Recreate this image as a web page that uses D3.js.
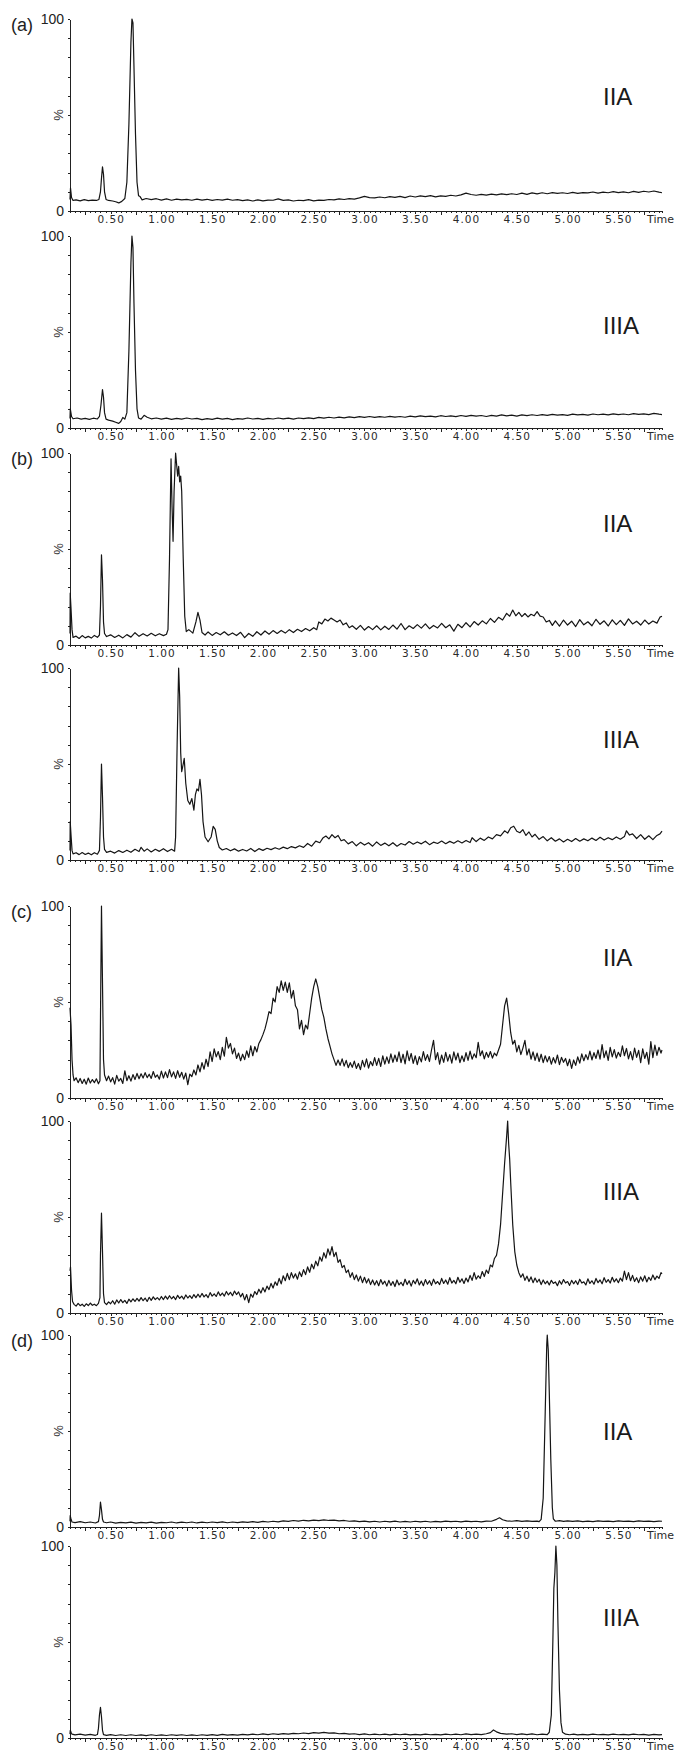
<!DOCTYPE html>
<meta charset="utf-8">
<style>
    body { margin: 0; background: #fff; }
    svg { display: block; }
    .trace { fill: none; stroke: #151515; stroke-width: 1.2; stroke-linejoin: round; }
    .axis path, .axis line { stroke: #222; shape-rendering: crispEdges; }
    .axis--x text { font-family: "DejaVu Sans", sans-serif; font-size: 10.5px; letter-spacing: 1px; fill: #2a2a2a; }
    .ylab { font-family: "Liberation Sans", Arial, sans-serif; font-size: 14px; fill: #222; }
    .pct { font-family: "Liberation Sans", Arial, sans-serif; font-size: 13px; fill: #333; }
    .tag { font-family: "Liberation Sans", Arial, sans-serif; font-size: 18px; fill: #222; }
    .name { font-family: "Liberation Sans", Arial, sans-serif; font-size: 24px; fill: #1a1a1a; }
    .time { font-family: "DejaVu Sans", sans-serif; font-size: 11px; fill: #2a2a2a; }
</style>
<svg width="677" height="1754"></svg>
<script src="https://cdn.jsdelivr.net/npm/d3@7"></script>
<script>

    // chromatogram traces: [time (min), relative intensity (%)]
    var aIIA = [[0.10,6],[0.105,12],[0.115,7],[0.13,5.5],[0.16,5.8],[0.20,5.3],[0.24,5.9],[0.28,5.4],[0.32,5.7],[0.36,5.5],[0.385,6],[0.40,10],[0.41,17],[0.42,23],[0.43,19],[0.44,10],[0.455,6],[0.48,5.5],[0.52,5.2],[0.55,4.8],[0.58,4.2],[0.61,5],[0.64,6.5],[0.66,15],[0.68,45],[0.70,88],[0.71,100],[0.72,98],[0.73,75],[0.745,40],[0.76,15],[0.775,8],[0.79,7.5],[0.81,5.8],[0.85,6.5],[0.90,5.9],[0.95,6.4],[1.00,5.7],[1.05,6.3],[1.10,5.6],[1.15,6.2],[1.20,5.8],[1.25,6.1],[1.30,5.6],[1.35,6.2],[1.40,5.7],[1.45,6.1],[1.50,5.5],[1.55,6.0],[1.60,5.7],[1.65,6.2],[1.70,5.6],[1.75,5.9],[1.80,5.4],[1.85,5.8],[1.90,5.2],[1.95,5.8],[2.00,5.3],[2.05,5.7],[2.10,5.6],[2.15,6.3],[2.20,5.5],[2.25,5.8],[2.30,5.2],[2.35,5.6],[2.40,5.4],[2.45,5.9],[2.50,5.3],[2.55,5.7],[2.60,5.5],[2.65,6.0],[2.70,5.8],[2.75,6.3],[2.80,6.0],[2.85,6.4],[2.90,6.2],[2.95,6.8],[3.00,7.6],[3.05,7.0],[3.10,6.8],[3.15,7.3],[3.20,6.9],[3.25,7.5],[3.30,7.1],[3.35,7.6],[3.40,7.0],[3.45,7.8],[3.50,7.3],[3.55,7.9],[3.60,7.5],[3.65,8.0],[3.70,7.4],[3.75,7.9],[3.80,7.6],[3.85,8.2],[3.90,7.8],[3.95,8.4],[4.00,9.3],[4.05,8.6],[4.10,8.2],[4.15,8.7],[4.20,8.3],[4.25,8.8],[4.30,8.4],[4.35,8.9],[4.40,8.5],[4.45,9.0],[4.50,8.6],[4.55,9.3],[4.60,8.7],[4.65,9.4],[4.70,8.9],[4.75,9.5],[4.80,9.0],[4.85,9.6],[4.90,9.2],[4.95,9.5],[5.00,9.1],[5.05,9.7],[5.10,9.2],[5.15,9.6],[5.20,9.4],[5.25,9.9],[5.30,9.3],[5.35,9.8],[5.40,9.5],[5.45,10.1],[5.50,9.6],[5.55,10.0],[5.60,9.5],[5.65,10.2],[5.70,9.7],[5.75,10.3],[5.80,9.9],[5.85,10.4],[5.90,9.8],[5.93,9.5]];

    var aIIIA = [[0.10,5.0],[0.103,10],[0.115,6.0],[0.13,4.8],[0.17,5.2],[0.21,4.6],[0.25,5.0],[0.29,4.5],[0.33,5.1],[0.37,4.7],[0.39,6.0],[0.405,12],[0.42,20],[0.43,16],[0.44,8],[0.455,4.6],[0.48,4.1],[0.52,3.6],[0.55,3.0],[0.58,2.4],[0.60,3.4],[0.62,5.5],[0.64,4.6],[0.66,8],[0.68,40],[0.70,86],[0.71,100],[0.72,94],[0.73,65],[0.745,30],[0.76,10],[0.775,5.2],[0.80,4.6],[0.83,6.6],[0.86,5.6],[0.90,4.8],[0.95,5.2],[1.00,4.6],[1.05,5.1],[1.10,4.5],[1.15,5.0],[1.20,4.6],[1.25,5.2],[1.30,4.7],[1.35,5.0],[1.40,4.4],[1.45,4.9],[1.50,4.5],[1.55,5.1],[1.60,4.6],[1.65,5.0],[1.70,4.4],[1.75,4.9],[1.80,4.6],[1.85,5.2],[1.90,4.7],[1.95,5.0],[2.00,4.5],[2.05,5.0],[2.10,4.7],[2.15,5.2],[2.20,4.8],[2.25,5.1],[2.30,4.6],[2.35,5.2],[2.40,4.9],[2.45,5.3],[2.50,4.9],[2.55,5.5],[2.60,5.1],[2.65,5.6],[2.70,5.2],[2.75,5.7],[2.80,5.3],[2.85,5.8],[2.90,5.4],[2.95,5.9],[3.00,5.5],[3.05,6.0],[3.10,5.5],[3.15,5.9],[3.20,5.6],[3.25,6.1],[3.30,5.7],[3.35,6.0],[3.40,5.6],[3.45,6.2],[3.50,5.8],[3.55,6.3],[3.60,5.9],[3.65,6.2],[3.70,5.8],[3.75,6.4],[3.80,6.0],[3.85,6.3],[3.90,5.9],[3.95,6.5],[4.00,6.1],[4.05,6.6],[4.10,6.2],[4.15,6.5],[4.20,6.0],[4.25,6.6],[4.30,6.2],[4.35,6.8],[4.40,6.3],[4.45,6.7],[4.50,6.2],[4.55,6.8],[4.60,6.4],[4.65,6.9],[4.70,6.5],[4.75,7.0],[4.80,6.6],[4.85,7.1],[4.90,6.7],[4.95,7.0],[5.00,6.6],[5.05,7.2],[5.10,6.8],[5.15,7.1],[5.20,6.7],[5.25,7.3],[5.30,6.9],[5.35,7.2],[5.40,6.8],[5.45,7.4],[5.50,7.0],[5.55,7.3],[5.60,6.9],[5.65,7.5],[5.70,7.1],[5.75,7.4],[5.80,7.0],[5.85,7.6],[5.90,7.2],[5.93,7.0]];

    var bIIA = [[0.10,6],[0.102,27],[0.11,19],[0.12,8],[0.13,4.0],[0.16,4.6],[0.19,3.4],[0.22,4.9],[0.25,3.7],[0.28,4.5],[0.31,3.6],[0.34,5.0],[0.37,4.0],[0.39,5.2],[0.40,20],[0.41,47],[0.42,34],[0.43,12],[0.44,6],[0.46,4.4],[0.50,5.3],[0.54,3.9],[0.58,5.1],[0.62,3.7],[0.66,5.4],[0.70,4.1],[0.74,6.4],[0.78,4.5],[0.82,5.9],[0.86,4.7],[0.90,6.1],[0.94,4.8],[0.98,5.9],[1.02,4.9],[1.05,5.6],[1.065,8],[1.08,45],[1.095,97],[1.105,72],[1.115,54],[1.125,80],[1.14,100],[1.15,94],[1.16,88],[1.17,93],[1.18,85],[1.19,88],[1.20,80],[1.215,45],[1.23,15],[1.245,7],[1.27,8],[1.31,6.2],[1.34,12],[1.36,17],[1.38,13],[1.40,6.5],[1.43,5.2],[1.46,6.8],[1.50,5.0],[1.54,6.5],[1.58,5.3],[1.62,6.9],[1.66,5.1],[1.70,6.3],[1.74,4.9],[1.78,6.6],[1.82,3.8],[1.86,6.0],[1.90,4.5],[1.94,6.9],[1.98,5.2],[2.02,7.3],[2.06,5.6],[2.10,7.5],[2.14,6.0],[2.18,7.6],[2.22,6.2],[2.26,8.0],[2.30,6.5],[2.34,8.2],[2.38,7.0],[2.42,8.6],[2.46,7.4],[2.50,9.0],[2.53,8.0],[2.55,12],[2.58,11],[2.61,13.5],[2.64,12.5],[2.67,14],[2.70,13],[2.73,12],[2.76,13],[2.79,10.5],[2.82,11.5],[2.85,9],[2.88,10],[2.92,8.2],[2.96,10.2],[3.00,7.8],[3.04,9.6],[3.08,8.0],[3.12,10.0],[3.16,7.9],[3.20,9.8],[3.24,8.1],[3.28,10.4],[3.32,8.3],[3.36,11.2],[3.40,8.0],[3.44,10.0],[3.48,8.6],[3.52,10.6],[3.56,8.8],[3.60,11.0],[3.64,8.5],[3.68,10.2],[3.72,8.9],[3.76,11.3],[3.80,9.0],[3.84,10.5],[3.88,7.2],[3.92,10.8],[3.96,9.0],[4.00,11.6],[4.04,9.4],[4.08,12.2],[4.12,10.4],[4.16,12.6],[4.20,11.0],[4.24,13.8],[4.28,11.8],[4.32,14.4],[4.36,13.0],[4.40,16.5],[4.43,15.0],[4.46,18.2],[4.49,15.2],[4.52,17.0],[4.55,14.8],[4.58,16.4],[4.61,14.6],[4.64,16.0],[4.67,15.2],[4.70,17.4],[4.73,15.0],[4.76,14.6],[4.79,12.0],[4.82,12.8],[4.85,10.2],[4.88,12.6],[4.92,9.8],[4.96,13.0],[5.00,10.4],[5.04,12.4],[5.08,9.6],[5.12,13.2],[5.16,10.5],[5.20,12.1],[5.24,10.0],[5.28,13.4],[5.32,10.8],[5.36,12.6],[5.40,9.9],[5.44,13.1],[5.48,10.6],[5.52,12.8],[5.56,10.2],[5.60,13.6],[5.64,11.0],[5.68,12.4],[5.72,10.4],[5.76,13.0],[5.80,10.9],[5.84,12.5],[5.88,11.4],[5.91,14.5],[5.93,15.0]];

    var bIIIA = [[0.10,5],[0.102,20],[0.11,13],[0.12,5],[0.13,3.2],[0.16,3.8],[0.19,2.8],[0.22,3.9],[0.25,2.9],[0.28,3.6],[0.31,2.7],[0.34,3.8],[0.37,3.0],[0.39,5],[0.40,22],[0.41,50],[0.42,33],[0.43,12],[0.44,5.5],[0.46,4.0],[0.50,4.6],[0.54,3.6],[0.58,4.9],[0.62,3.9],[0.66,5.1],[0.70,4.0],[0.74,5.6],[0.78,4.4],[0.80,6.6],[0.83,4.6],[0.86,5.8],[0.90,4.2],[0.94,5.6],[0.98,4.5],[1.02,5.9],[1.06,4.4],[1.10,5.6],[1.13,4.6],[1.14,12],[1.155,60],[1.17,100],[1.18,85],[1.19,56],[1.20,46],[1.215,50],[1.225,53],[1.24,40],[1.26,31],[1.28,29],[1.30,32],[1.32,26],[1.335,34],[1.35,37],[1.365,36],[1.38,42],[1.395,34],[1.41,20],[1.43,12],[1.46,9.5],[1.49,12],[1.51,17.5],[1.53,16],[1.55,10],[1.57,6.5],[1.60,5.2],[1.64,6.0],[1.68,4.8],[1.72,5.8],[1.76,4.6],[1.80,5.5],[1.84,4.7],[1.88,6.0],[1.92,4.4],[1.96,5.9],[2.00,5.0],[2.04,6.1],[2.08,5.4],[2.12,6.4],[2.16,5.6],[2.20,6.7],[2.24,5.9],[2.28,7.0],[2.32,6.3],[2.36,7.4],[2.40,6.6],[2.44,8.6],[2.48,7.2],[2.52,9.8],[2.56,9.0],[2.59,11.4],[2.62,12.5],[2.65,11.0],[2.68,13.2],[2.71,11.6],[2.74,12.8],[2.77,10.0],[2.80,10.6],[2.84,8.4],[2.88,9.6],[2.92,7.4],[2.96,9.2],[3.00,7.8],[3.04,9.0],[3.08,7.2],[3.12,9.4],[3.16,7.6],[3.20,8.8],[3.24,7.4],[3.28,9.0],[3.32,7.2],[3.36,8.6],[3.40,7.8],[3.44,9.6],[3.48,8.2],[3.52,9.4],[3.56,8.4],[3.60,9.8],[3.64,8.0],[3.68,9.3],[3.72,8.6],[3.76,9.9],[3.80,8.5],[3.84,9.7],[3.88,8.7],[3.92,10.0],[3.96,8.9],[4.00,10.2],[4.04,9.1],[4.06,11.6],[4.10,9.6],[4.14,11.4],[4.18,10.2],[4.22,12.0],[4.26,11.0],[4.30,13.2],[4.34,12.6],[4.38,15.2],[4.41,14.0],[4.44,16.8],[4.47,17.6],[4.50,15.0],[4.53,14.2],[4.56,15.8],[4.59,12.8],[4.62,14.6],[4.65,12.0],[4.68,13.4],[4.72,10.8],[4.76,12.2],[4.80,10.0],[4.84,11.6],[4.88,9.8],[4.92,11.0],[4.96,9.4],[5.00,10.8],[5.04,9.6],[5.08,11.2],[5.12,9.8],[5.16,11.0],[5.20,10.0],[5.24,11.4],[5.28,10.2],[5.32,11.8],[5.36,10.4],[5.40,11.6],[5.44,10.6],[5.48,12.0],[5.52,10.8],[5.56,12.2],[5.58,15.2],[5.61,13.0],[5.64,13.6],[5.68,11.2],[5.72,13.2],[5.76,10.8],[5.80,12.6],[5.84,10.6],[5.88,12.8],[5.91,13.6],[5.93,15.0]];

    var cIIA = [[0.10,47],[0.11,38],[0.12,20],[0.13,12],[0.14,9],[0.16,10.5],[0.18,8],[0.20,10.2],[0.22,7.6],[0.24,9.8],[0.26,7.2],[0.28,10.4],[0.30,7.8],[0.32,9.6],[0.34,8.0],[0.36,10.0],[0.38,7.4],[0.395,9],[0.40,40],[0.41,100],[0.42,60],[0.43,20],[0.44,12],[0.46,9.0],[0.48,11.4],[0.50,8.4],[0.52,10.6],[0.54,7.2],[0.56,11.8],[0.58,8.8],[0.60,10.2],[0.62,7.6],[0.64,14.2],[0.66,9.0],[0.68,11.6],[0.70,8.8],[0.72,12.2],[0.74,9.6],[0.76,12.8],[0.78,10.0],[0.80,12.6],[0.82,10.4],[0.84,13.2],[0.86,10.6],[0.88,12.4],[0.90,10.2],[0.92,13.8],[0.94,10.8],[0.96,12.0],[0.98,9.8],[1.00,14.0],[1.02,10.4],[1.04,13.6],[1.06,10.6],[1.08,14.8],[1.10,11.0],[1.12,13.6],[1.14,10.2],[1.16,14.2],[1.18,10.8],[1.20,13.4],[1.22,9.8],[1.24,13.0],[1.26,7.0],[1.28,12.4],[1.30,11.2],[1.32,14.6],[1.34,12.0],[1.36,17.2],[1.38,13.6],[1.40,18.4],[1.42,15.0],[1.44,20.2],[1.46,16.4],[1.48,24.0],[1.50,19.0],[1.52,25.6],[1.54,21.4],[1.56,24.2],[1.58,20.0],[1.60,26.4],[1.62,21.8],[1.64,31.6],[1.66,26.0],[1.68,28.4],[1.70,23.0],[1.72,26.0],[1.74,20.6],[1.76,23.4],[1.78,19.4],[1.80,22.8],[1.82,20.0],[1.84,24.6],[1.86,21.2],[1.88,27.2],[1.90,22.0],[1.92,26.8],[1.94,24.0],[1.96,28.4],[1.98,30.4],[2.00,33.0],[2.02,36.0],[2.04,40.2],[2.06,45.0],[2.08,44.0],[2.10,52.0],[2.12,50.0],[2.14,58.0],[2.16,55.0],[2.18,61.0],[2.20,56.0],[2.22,60.4],[2.24,55.0],[2.26,60.0],[2.28,52.0],[2.30,56.0],[2.32,48.0],[2.34,46.0],[2.36,36.0],[2.38,40.4],[2.40,33.0],[2.42,38.0],[2.44,36.0],[2.46,44.0],[2.48,52.0],[2.50,58.0],[2.52,62.0],[2.54,58.0],[2.56,52.0],[2.58,46.0],[2.60,42.0],[2.62,36.0],[2.64,31.0],[2.66,27.0],[2.68,23.0],[2.70,20.0],[2.72,17.0],[2.74,19.8],[2.76,17.0],[2.78,20.4],[2.80,16.6],[2.82,19.6],[2.84,15.8],[2.86,18.4],[2.88,16.0],[2.90,19.2],[2.92,15.4],[2.94,18.0],[2.96,14.8],[2.98,19.6],[3.00,16.2],[3.02,20.4],[3.04,15.6],[3.06,19.0],[3.08,16.8],[3.10,21.0],[3.12,17.0],[3.14,20.6],[3.16,16.4],[3.18,22.0],[3.20,17.6],[3.22,21.4],[3.24,18.0],[3.26,23.0],[3.28,18.6],[3.30,22.4],[3.32,19.0],[3.34,24.0],[3.36,18.4],[3.38,22.8],[3.40,17.8],[3.42,24.6],[3.44,19.4],[3.46,23.2],[3.48,18.0],[3.50,22.0],[3.52,17.4],[3.54,21.6],[3.56,18.8],[3.58,24.2],[3.60,19.6],[3.62,22.6],[3.64,19.0],[3.66,25.0],[3.68,30.0],[3.70,20.0],[3.72,23.6],[3.74,17.6],[3.76,22.4],[3.78,18.6],[3.80,23.8],[3.82,19.2],[3.84,22.6],[3.86,18.2],[3.88,24.0],[3.90,19.8],[3.92,23.4],[3.94,18.4],[3.96,22.0],[3.98,19.0],[4.00,23.6],[4.02,19.6],[4.04,24.4],[4.06,20.2],[4.08,23.0],[4.10,21.0],[4.12,29.0],[4.14,22.0],[4.16,24.6],[4.18,20.4],[4.20,23.8],[4.22,21.2],[4.24,24.2],[4.26,20.8],[4.28,23.4],[4.30,22.0],[4.32,25.0],[4.34,28.0],[4.36,38.0],[4.38,48.0],[4.40,52.0],[4.42,44.0],[4.44,34.0],[4.46,28.0],[4.48,30.0],[4.50,24.0],[4.52,27.4],[4.54,22.6],[4.56,26.0],[4.58,30.0],[4.60,22.4],[4.62,25.6],[4.64,20.2],[4.66,24.0],[4.68,19.6],[4.70,23.4],[4.72,19.0],[4.74,22.8],[4.76,18.4],[4.78,22.0],[4.80,18.8],[4.82,21.6],[4.84,17.6],[4.86,21.0],[4.88,18.2],[4.90,22.4],[4.92,17.4],[4.94,21.2],[4.96,18.6],[4.98,20.6],[5.00,16.8],[5.02,20.2],[5.04,15.4],[5.06,19.8],[5.08,17.0],[5.10,21.4],[5.12,18.2],[5.14,23.0],[5.16,19.4],[5.18,22.6],[5.20,20.0],[5.22,24.4],[5.24,19.8],[5.26,23.6],[5.28,20.6],[5.30,25.0],[5.32,20.2],[5.34,27.8],[5.36,21.0],[5.38,24.6],[5.40,19.6],[5.42,26.4],[5.44,21.4],[5.46,25.2],[5.48,20.8],[5.50,23.8],[5.52,21.6],[5.54,27.2],[5.56,22.0],[5.58,25.8],[5.60,20.4],[5.62,24.2],[5.64,19.8],[5.66,26.0],[5.68,21.2],[5.70,24.8],[5.72,18.4],[5.74,25.6],[5.76,20.6],[5.78,23.8],[5.80,17.6],[5.82,29.4],[5.84,21.0],[5.86,27.6],[5.88,22.2],[5.90,26.4],[5.92,23.4],[5.93,25.0]];

    var cIIIA = [[0.10,22],[0.105,24],[0.115,12],[0.125,6],[0.14,4.5],[0.16,3.6],[0.18,5.0],[0.20,3.8],[0.22,4.6],[0.24,3.4],[0.26,4.8],[0.28,3.9],[0.30,5.2],[0.32,4.0],[0.34,4.6],[0.36,3.8],[0.38,5.0],[0.395,8],[0.40,30],[0.41,52],[0.42,32],[0.43,10],[0.44,5.4],[0.46,4.4],[0.48,5.8],[0.50,4.8],[0.52,6.4],[0.54,4.6],[0.56,6.8],[0.58,5.2],[0.60,7.0],[0.62,5.4],[0.64,6.6],[0.66,5.0],[0.68,7.2],[0.70,5.8],[0.72,7.4],[0.74,6.0],[0.76,7.6],[0.78,6.2],[0.80,8.0],[0.82,6.4],[0.84,7.8],[0.86,6.0],[0.88,8.2],[0.90,6.6],[0.92,8.4],[0.94,7.0],[0.96,8.0],[0.98,6.8],[1.00,8.6],[1.02,7.0],[1.04,8.8],[1.06,7.2],[1.08,9.0],[1.10,7.4],[1.12,8.6],[1.14,7.0],[1.16,9.2],[1.18,7.6],[1.20,8.8],[1.22,7.2],[1.24,9.4],[1.26,7.8],[1.28,9.0],[1.30,7.6],[1.32,9.6],[1.34,8.0],[1.36,9.8],[1.38,8.2],[1.40,10.2],[1.42,8.4],[1.44,9.6],[1.46,8.0],[1.48,10.6],[1.50,8.8],[1.52,10.0],[1.54,8.6],[1.56,11.0],[1.58,9.0],[1.60,10.4],[1.62,8.8],[1.64,11.2],[1.66,9.4],[1.68,10.8],[1.70,9.0],[1.72,11.4],[1.74,9.6],[1.76,11.0],[1.78,8.4],[1.80,10.2],[1.82,6.8],[1.84,9.6],[1.86,5.4],[1.88,9.8],[1.90,8.2],[1.92,11.2],[1.94,9.6],[1.96,12.4],[1.98,10.4],[2.00,13.2],[2.02,11.0],[2.04,14.0],[2.06,12.2],[2.08,15.4],[2.10,13.0],[2.12,16.2],[2.14,14.4],[2.16,18.0],[2.18,15.2],[2.20,19.4],[2.22,16.8],[2.24,20.6],[2.26,17.4],[2.28,21.0],[2.30,18.2],[2.32,20.4],[2.34,17.6],[2.36,21.4],[2.38,19.0],[2.40,22.6],[2.42,20.0],[2.44,24.0],[2.46,21.2],[2.48,25.4],[2.50,23.0],[2.52,27.0],[2.54,24.6],[2.56,29.2],[2.58,27.0],[2.60,31.4],[2.62,28.6],[2.64,33.4],[2.66,30.2],[2.68,34.6],[2.70,29.4],[2.72,31.6],[2.74,26.4],[2.76,27.8],[2.78,23.6],[2.80,24.8],[2.82,21.0],[2.84,22.4],[2.86,18.6],[2.88,21.0],[2.90,17.4],[2.92,19.8],[2.94,16.6],[2.96,19.2],[2.98,15.8],[3.00,18.6],[3.02,15.6],[3.04,17.8],[3.06,14.8],[3.08,17.2],[3.10,14.6],[3.12,16.8],[3.14,14.2],[3.16,17.4],[3.18,15.0],[3.20,16.6],[3.22,14.0],[3.24,17.0],[3.26,14.4],[3.28,16.4],[3.30,13.8],[3.32,17.2],[3.34,14.6],[3.36,16.0],[3.38,14.2],[3.40,17.6],[3.42,14.8],[3.44,16.8],[3.46,14.0],[3.48,17.0],[3.50,15.2],[3.52,17.8],[3.54,14.6],[3.56,16.6],[3.58,14.2],[3.60,17.4],[3.62,15.0],[3.64,16.8],[3.66,14.4],[3.68,17.6],[3.70,15.2],[3.72,16.4],[3.74,14.8],[3.76,18.0],[3.78,15.4],[3.80,17.2],[3.82,15.0],[3.84,18.4],[3.86,15.6],[3.88,17.0],[3.90,15.2],[3.92,18.6],[3.94,16.0],[3.96,17.8],[3.98,15.4],[4.00,18.2],[4.02,16.2],[4.04,19.6],[4.06,17.0],[4.08,21.0],[4.10,17.6],[4.12,19.4],[4.14,18.0],[4.16,21.6],[4.18,19.0],[4.20,22.4],[4.22,20.6],[4.24,25.0],[4.26,24.0],[4.28,28.4],[4.30,30.0],[4.32,36.0],[4.34,46.0],[4.36,62.0],[4.38,78.0],[4.40,92.0],[4.41,100],[4.42,88.0],[4.43,80.0],[4.44,68.0],[4.46,46.0],[4.48,32.0],[4.50,25.0],[4.52,21.0],[4.54,18.6],[4.56,20.4],[4.58,17.0],[4.60,19.2],[4.62,16.4],[4.64,18.8],[4.66,15.8],[4.68,18.2],[4.70,16.0],[4.72,17.6],[4.74,14.8],[4.76,17.2],[4.78,15.2],[4.80,16.6],[4.82,14.6],[4.84,17.0],[4.86,15.4],[4.88,16.2],[4.90,14.2],[4.92,16.8],[4.94,15.0],[4.96,17.4],[4.98,15.6],[5.00,16.4],[5.02,14.4],[5.04,17.0],[5.06,15.2],[5.08,16.8],[5.10,14.8],[5.12,17.6],[5.14,15.6],[5.16,16.2],[5.18,14.6],[5.20,17.8],[5.22,15.4],[5.24,16.8],[5.26,15.0],[5.28,18.0],[5.30,15.8],[5.32,17.2],[5.34,15.2],[5.36,18.4],[5.38,16.0],[5.40,17.4],[5.42,15.6],[5.44,18.6],[5.46,16.2],[5.48,17.8],[5.50,15.8],[5.52,18.2],[5.54,16.6],[5.56,21.8],[5.58,17.4],[5.60,21.0],[5.62,16.8],[5.64,19.6],[5.66,16.4],[5.68,18.4],[5.70,15.8],[5.72,18.8],[5.74,16.6],[5.76,19.4],[5.78,16.2],[5.80,18.6],[5.82,17.0],[5.84,19.8],[5.86,17.4],[5.88,19.2],[5.90,18.0],[5.92,21.0],[5.93,20.4]];

    var dIIA = [[0.10,3.0],[0.102,6],[0.11,4],[0.12,2.6],[0.15,2.3],[0.20,2.8],[0.25,2.2],[0.30,2.6],[0.35,2.1],[0.38,2.8],[0.39,6],[0.40,13],[0.41,9],[0.42,4],[0.43,2.6],[0.46,2.2],[0.50,2.6],[0.55,2.0],[0.60,2.4],[0.65,2.1],[0.70,2.5],[0.75,2.0],[0.80,2.4],[0.85,2.1],[0.90,2.5],[0.95,2.0],[1.00,2.4],[1.05,2.2],[1.10,2.6],[1.15,2.1],[1.20,2.5],[1.25,2.2],[1.30,2.6],[1.35,2.1],[1.40,2.5],[1.45,2.2],[1.50,2.6],[1.55,2.3],[1.60,2.7],[1.65,2.2],[1.70,2.6],[1.75,2.3],[1.80,2.7],[1.85,2.4],[1.90,2.8],[1.95,2.4],[2.00,2.9],[2.05,2.6],[2.10,3.0],[2.15,2.7],[2.20,3.2],[2.25,2.9],[2.30,3.4],[2.35,3.1],[2.40,3.5],[2.45,3.2],[2.50,3.6],[2.55,3.3],[2.60,3.7],[2.65,3.4],[2.70,3.6],[2.75,3.2],[2.80,3.4],[2.85,3.0],[2.90,3.2],[2.95,2.8],[3.00,3.1],[3.05,2.7],[3.10,3.0],[3.15,2.6],[3.20,3.0],[3.25,2.7],[3.30,3.1],[3.35,2.6],[3.40,2.9],[3.45,2.6],[3.50,3.0],[3.55,2.7],[3.60,3.0],[3.65,2.6],[3.70,2.9],[3.75,2.7],[3.80,3.1],[3.85,2.8],[3.90,3.0],[3.95,2.7],[4.00,3.1],[4.05,2.8],[4.10,3.0],[4.15,2.7],[4.20,3.1],[4.25,3.0],[4.30,4.0],[4.33,4.8],[4.36,3.8],[4.40,3.2],[4.45,3.0],[4.50,3.3],[4.55,2.9],[4.60,3.2],[4.65,2.9],[4.70,3.1],[4.72,2.8],[4.74,4],[4.76,15],[4.78,60],[4.795,95],[4.80,100],[4.81,92],[4.82,70],[4.835,35],[4.85,10],[4.86,4.2],[4.88,3.0],[4.92,3.3],[4.96,2.9],[5.00,3.2],[5.05,2.9],[5.10,3.2],[5.15,2.8],[5.20,3.1],[5.25,2.8],[5.30,3.2],[5.35,2.9],[5.40,3.1],[5.45,2.8],[5.50,3.2],[5.55,2.9],[5.60,3.1],[5.65,2.8],[5.70,3.2],[5.75,2.9],[5.80,3.1],[5.85,2.8],[5.90,3.1],[5.93,3.0]];

    var dIIIA = [[0.10,2.0],[0.103,4],[0.11,3],[0.12,2.0],[0.15,1.6],[0.20,2.0],[0.25,1.5],[0.30,1.9],[0.35,1.4],[0.37,1.8],[0.38,5],[0.39,12],[0.40,16],[0.41,11],[0.42,4],[0.43,1.8],[0.46,1.4],[0.50,1.8],[0.55,1.3],[0.60,1.7],[0.65,1.3],[0.70,1.7],[0.75,1.3],[0.80,1.6],[0.85,1.2],[0.90,1.7],[0.95,1.3],[1.00,1.6],[1.05,1.3],[1.10,1.7],[1.15,1.4],[1.20,1.7],[1.25,1.3],[1.30,1.6],[1.35,1.3],[1.40,1.7],[1.45,1.4],[1.50,1.8],[1.55,1.4],[1.60,1.9],[1.65,1.5],[1.70,1.8],[1.75,1.5],[1.80,1.9],[1.85,1.6],[1.90,2.0],[1.95,1.7],[2.00,2.1],[2.05,1.8],[2.10,2.2],[2.15,1.9],[2.20,2.3],[2.25,2.0],[2.30,2.4],[2.35,2.2],[2.40,2.6],[2.45,2.3],[2.50,2.8],[2.55,2.5],[2.60,2.9],[2.65,2.5],[2.70,2.7],[2.75,2.2],[2.80,2.4],[2.85,2.0],[2.90,2.2],[2.95,1.8],[3.00,2.1],[3.05,1.7],[3.10,2.0],[3.15,1.7],[3.20,2.0],[3.25,1.6],[3.30,2.0],[3.35,1.7],[3.40,2.0],[3.45,1.6],[3.50,1.9],[3.55,1.6],[3.60,2.0],[3.65,1.7],[3.70,1.9],[3.75,1.6],[3.80,2.0],[3.85,1.7],[3.90,2.0],[3.95,1.7],[4.00,2.1],[4.05,1.8],[4.10,2.0],[4.15,1.8],[4.20,2.2],[4.24,2.8],[4.27,4.2],[4.30,3.2],[4.34,2.4],[4.40,2.0],[4.45,2.2],[4.50,1.8],[4.55,2.1],[4.60,1.8],[4.65,2.1],[4.70,1.7],[4.75,2.0],[4.80,1.8],[4.82,3],[4.84,12],[4.855,50],[4.865,78],[4.875,86],[4.885,100],[4.895,90],[4.905,60],[4.92,25],[4.935,8],[4.95,3],[4.98,2.0],[5.02,1.7],[5.06,2.0],[5.10,1.6],[5.15,1.9],[5.20,1.6],[5.25,2.0],[5.30,1.7],[5.35,1.9],[5.40,1.6],[5.45,2.0],[5.50,1.7],[5.55,1.9],[5.60,1.6],[5.65,2.0],[5.70,1.7],[5.75,1.9],[5.80,1.5],[5.85,1.9],[5.90,1.6],[5.93,1.8]];

    var panelTags = ["(a)", "", "(b)", "", "(c)", "", "(d)", ""];
    var compounds = ["IIA", "IIIA", "IIA", "IIIA", "IIA", "IIIA", "IIA", "IIIA"];
    var traces = [aIIA, aIIIA, bIIA, bIIIA, cIIA, cIIIA, dIIA, dIIIA];
    var xTicks = [0.5, 1.0, 1.5, 2.0, 2.5, 3.0, 3.5, 4.0, 4.5, 5.0, 5.5];
    var timeRange = [0.10, 5.93];

    // layout
    var panelTop = [19, 236, 453, 668, 906, 1121, 1335, 1546],
        panelH = 192,
        nameDy = [86, 98, 79, 80, 60, 79, 105, 80],
        left = 70, right = 662;

    var svg = d3.select("svg");

    var x = d3.scaleLinear().domain(timeRange).range([left, right]);

    traces.forEach(function(data, i) {
        var top = panelTop[i],
            y = d3.scaleLinear().domain([0, 100]).range([top + panelH, top]);

        var g = svg.append("g");

        // minor x ticks
        g.append("g")
            .attr("class", "axis axis--minor")
            .attr("transform", "translate(0," + (top + panelH) + ")")
            .call(d3.axisBottom(x).tickValues(d3.range(0.15, 5.93, 0.05)).tickSize(2).tickFormat(""));

        g.append("g")
            .attr("class", "axis axis--minor")
            .attr("transform", "translate(0," + (top + panelH) + ")")
            .call(d3.axisBottom(x).tickValues(d3.range(0.25, 5.93, 0.5)).tickSize(4).tickFormat(""))
            .select(".domain").remove();

        g.append("g")
            .attr("class", "axis axis--x")
            .attr("transform", "translate(0," + (top + panelH) + ")")
            .call(d3.axisBottom(x).tickValues(xTicks).tickSize(3).tickSizeOuter(0).tickPadding(2).tickFormat(d3.format(".2f")))
            .select(".domain").remove();

        g.append("g")
            .attr("class", "axis axis--y")
            .attr("transform", "translate(" + left + ",0)")
            .call(d3.axisLeft(y).tickValues(d3.range(0, 101, 10)).tickSize(2).tickSizeOuter(0).tickFormat(""));

        g.append("path")
            .datum(data)
            .attr("class", "trace")
            .attr("d", d3.line()
                .x(function(d) { return x(d[0]); })
                .y(function(d) { return y(d[1]); }));

        g.append("text").attr("class", "ylab")
            .attr("x", left - 6).attr("y", y(100) + 5)
            .attr("text-anchor", "end").text("100");
        g.append("text").attr("class", "ylab")
            .attr("x", left - 6).attr("y", y(0) + 5)
            .attr("text-anchor", "end").text("0");
        g.append("text").attr("class", "pct")
            .attr("transform", "translate(" + (left - 7) + "," + y(50) + ") rotate(-90)")
            .attr("text-anchor", "middle").text("%");

        g.append("text").attr("class", "time")
            .attr("x", 647).attr("y", top + panelH + 12).text("Time");

        if (panelTags[i]) {
            g.append("text").attr("class", "tag")
                .attr("x", 11).attr("y", top + 12).text(panelTags[i]);
        }

        g.append("text").attr("class", "name")
            .attr("x", 603).attr("y", top + nameDy[i]).text(compounds[i]);
    });
</script>
